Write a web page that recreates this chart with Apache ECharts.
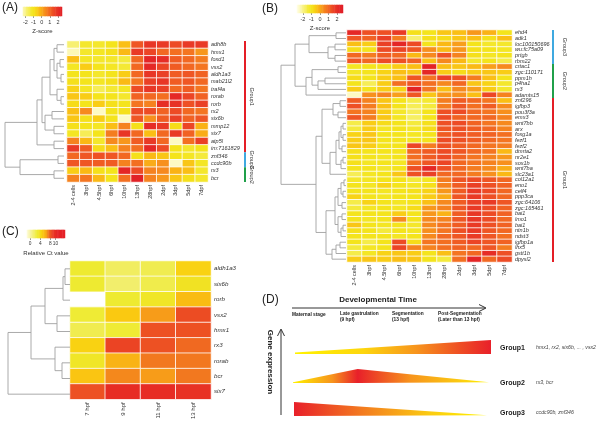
<!DOCTYPE html>
<html><head><meta charset="utf-8">
<script src="https://cdn.jsdelivr.net/npm/echarts@6/dist/echarts.min.js"></script>
<style>html,body{margin:0;padding:0;background:#fff}#c{width:600px;height:422px}</style>
</head><body><div id="c"></div>
<script>
const FONT = "'Liberation Sans', Arial, sans-serif";

// ---------- Panel A ----------
const colsA = ['2-4 cells','3hpf','4.5hpf','6hpf','10hpf','13hpf','28hpf','2dpf','3dpf','5dpf','7dpf'];
const rowsA = ['adh8b','hmx1','foxd1','vsx2','aldh1a3','mab21l2','traf4a','rorab','rorb','rx2','six6b','mmp12','six7','atp5l','im:7161829','znf346','ccdc90b','rx3','bcr'];
const valuesA = [
 [-1.8,-1.2,-1.2,-1.0,-0.3,1.3,1.9,1.8,1.5,1.8,1.8],
 [-2.3,-1.2,-1.1,-0.9,-0.2,1.8,1.6,1.0,0.9,0.8,0.3],
 [-0.3,-1.1,-1.2,-1.2,-1.4,1.0,2.3,2.1,1.2,1.0,0.7],
 [-1.1,-0.5,-1.0,-1.1,-1.3,1.0,2.2,1.6,1.2,1.0,0.8],
 [-1.0,-1.0,-1.2,-1.0,-0.5,1.0,1.9,1.7,1.2,1.3,1.1],
 [-0.9,-1.0,-1.1,-0.9,-0.2,0.8,1.7,1.9,1.2,1.3,1.0],
 [-0.6,-1.1,-1.6,-1.3,-1.1,1.5,1.9,1.7,1.0,1.2,0.8],
 [-0.4,-0.5,-1.0,-1.0,-1.2,1.1,1.0,0.9,2.2,1.6,1.1],
 [-0.8,-1.0,-0.5,-0.9,-1.0,0.8,0.6,2.1,2.0,1.4,1.7],
 [-0.3,0.5,-2.4,-1.0,-0.9,1.5,1.5,1.1,1.5,1.0,0.8],
 [-0.4,-0.9,-0.5,-1.0,-2.4,1.3,0.4,1.2,1.7,1.1,1.3],
 [-0.9,-1.0,-1.1,-0.3,0.6,-0.9,2.1,1.8,-0.8,1.6,-0.1],
 [-1.1,-1.6,-1.0,0.7,1.9,1.0,-0.3,1.0,1.8,1.1,0.0],
 [0.6,-0.2,-1.2,0.5,0.3,1.2,1.8,1.0,-2.4,0.9,1.7],
 [1.8,1.2,-0.8,-0.3,0.6,0.9,2.2,1.5,-1.0,-1.2,-1.0],
 [1.0,1.3,1.4,1.3,1.0,-0.9,-0.2,-0.4,-1.0,-1.1,-1.4],
 [1.3,1.3,1.2,1.2,0.6,0.9,0.0,0.4,-2.4,-0.4,-1.1],
 [-0.5,-0.2,-0.9,-1.0,2.3,1.5,0.6,0.5,-0.1,-0.3,-1.2],
 [0.6,0.8,-0.2,-1.0,0.9,2.5,0.6,0.3,-0.4,-0.9,-1.2]
];
// linkage: [childA, childB, height]; leaves 0..n-1, merged clusters n, n+1, ...
const linkA = [
 [0,1,7],[2,3,4],[4,5,3],[20,21,7],[19,22,10],[7,8,3],[6,24,7],[23,25,14],
 [9,10,12],[11,12,10],[27,28,19],[26,29,22],[13,14,10],[30,31,27],
 [15,16,6],[17,18,10],[33,34,44],[32,35,59]
];
const groupsA = [['Group1',0,14],['Group3',15,16],['Group2',17,18]];

// ---------- Panel B ----------
const colsB = colsA;
const rowsB = ['ehd4','adk1','loc100150696','wu:fc75a09','prtgb','rbm22','crtac1','zgc:110171','ppm1h','p4ha1','rx3','adamts15','znf296','igfbp3','pou3f3a','emx3','wnt7bb','arx','foxg1a','fezf1','fezf2','dmrta2','nr2e1','sox1b','wnt7ba','slc23a1','col12a1','eno1','celf4','ppp3ca','zgc:64106','zgc:165461','bai1','lmo1','bai1','ntn1b','ndst3','igfbp1a','lhx5','gstt1b','dpysl2'];
const valuesB = [
 [2.2,1.4,1.4,1.8,-0.9,-1.0,-0.4,-0.3,0.3,-0.1,-1.0],
 [1.3,1.1,1.7,0.7,-1.8,-0.9,-0.8,-0.4,-0.3,-0.9,-0.3],
 [-0.3,-0.5,1.7,2.3,1.5,-1.0,-0.2,0.2,-1.0,-1.2,-1.2],
 [-0.8,-1.0,1.5,1.6,1.3,0.4,-0.2,0.3,-0.9,-1.0,-1.1],
 [1.0,0.7,1.2,1.0,-0.2,0.5,1.4,0.6,-0.9,-1.1,-1.0],
 [1.3,1.0,1.5,1.4,1.1,-0.3,0.5,-0.2,-1.2,-1.0,-1.5],
 [-1.1,-1.0,-0.9,-0.5,-0.3,2.4,-0.3,-0.4,-0.2,0.2,0.5],
 [-1.1,-1.0,-0.6,-0.3,-0.4,2.3,-0.5,-0.8,-0.5,-0.4,-0.5],
 [-0.8,-1.0,-0.5,-0.3,1.3,0.8,1.7,1.4,0.7,-0.3,-1.0],
 [-1.0,-1.6,-0.5,0.9,1.3,0.9,0.5,1.0,-0.4,-0.6,-1.2],
 [-0.5,-1.0,-0.5,-0.6,2.4,0.8,-0.3,0.5,0.2,-0.5,-1.2],
 [-2.4,0.4,0.6,0.2,1.3,-0.4,0.3,0.4,-0.3,1.6,0.6],
 [1.2,0.6,-0.4,-1.0,-1.5,-1.3,0.7,1.2,1.0,0.8,-0.3],
 [1.4,0.7,-0.3,-1.0,-1.6,-1.4,0.7,1.3,0.9,1.2,0.5],
 [0.8,0.6,-0.5,-1.2,-1.6,-1.0,1.4,1.5,1.0,0.8,0.4],
 [1.3,0.7,-0.4,-1.1,-1.7,-1.0,1.5,1.1,1.0,1.0,0.6],
 [-1.5,-0.5,-0.8,-1.0,-1.4,-0.9,1.4,1.5,1.1,0.8,0.5],
 [-1.4,-0.5,-1.1,-1.0,-1.2,-0.8,1.3,1.4,1.2,1.0,0.6],
 [-0.6,-0.4,-1.0,-1.0,-1.1,-1.0,1.2,1.4,1.2,1.1,0.9],
 [-0.5,-0.4,-1.0,-1.0,-1.1,-1.0,1.5,1.4,1.2,1.0,0.8],
 [-0.4,-0.5,-1.0,-1.0,1.6,0.7,1.4,1.2,1.0,0.8,0.7],
 [-0.9,-1.0,-1.0,-1.0,1.0,1.2,1.5,1.3,1.0,0.8,-0.2],
 [-0.9,-1.0,-1.1,-1.0,0.9,1.2,1.5,1.1,0.8,0.6,0.3],
 [-0.9,-1.1,-1.0,-1.1,0.9,1.3,1.6,1.0,0.8,0.6,0.4],
 [-1.0,-1.0,-1.2,-1.0,1.4,2.2,1.4,1.0,0.7,0.5,0.0],
 [-1.6,-1.1,-1.0,-0.4,1.4,1.7,1.0,1.0,0.7,0.4,-0.2],
 [-1.2,-1.1,-1.0,-1.0,-1.4,-1.1,0.7,1.3,1.5,1.3,1.0],
 [-1.0,-1.1,-0.6,-1.0,-1.1,-0.9,0.6,1.2,1.7,1.4,1.1],
 [-1.0,-1.0,-1.1,-1.0,-0.9,-0.6,0.3,1.2,1.8,1.5,1.0],
 [-0.6,-1.0,-1.1,-1.0,-1.0,-0.5,0.0,1.3,1.8,1.4,1.0],
 [-1.5,-0.6,-1.0,-1.1,-1.0,-0.3,0.5,1.2,1.7,1.8,1.3],
 [-1.4,-1.1,-1.0,-1.1,-0.8,0.3,0.6,1.3,1.8,1.5,1.1],
 [-1.0,-1.0,-1.0,-0.5,-1.0,0.3,-0.1,1.2,1.9,1.5,1.1],
 [-1.0,-1.1,-1.0,0.5,-1.0,0.5,0.6,1.3,1.9,1.5,1.0],
 [-0.4,-1.0,-1.1,-1.0,-1.2,0.5,0.8,1.2,1.8,1.4,1.1],
 [-0.9,-1.0,-1.4,-1.0,-1.1,0.4,0.8,1.4,1.8,1.3,1.0],
 [-1.0,-1.0,-1.0,-1.1,-1.0,0.5,1.0,1.3,1.8,1.3,0.9],
 [-1.0,-1.5,-1.0,1.5,-0.8,0.8,0.9,1.2,1.6,1.3,1.1],
 [-1.4,-1.1,-1.0,1.6,0.6,0.6,0.9,1.1,1.0,1.3,0.7],
 [-1.5,-1.1,-0.6,-0.4,-0.5,-1.0,-0.3,0.8,1.0,2.1,1.4],
 [-0.5,-0.4,-0.5,-0.3,-0.4,-1.0,-1.4,0.9,2.3,1.0,1.5]
];
const linkB = [
 [0,1,10],[2,3,11],[4,5,11],[42,43,18],[41,44,37],
 [6,7,8],[8,9,21],[47,10,28],[46,48,34],[49,11,40],[45,50,51],
 [12,13,6],[14,15,8],[52,53,13],
 [16,17,3],[18,19,3],[55,56,5],[20,21,4],[57,58,7],[22,23,3],[60,24,5],[59,61,10],[62,25,16],[54,63,24],
 [26,27,2],[28,29,3],[65,66,5],[30,31,4],[67,68,8],
 [32,33,4],[34,35,3],[71,36,5],[70,72,8],[69,73,11],
 [37,38,6],[75,39,10],[76,40,14],[74,77,20],
 [64,78,30],[51,79,65]
];
const groupsB = [['Group3',0,5],['Group2',6,11],['Group1',12,40]];

// ---------- Panel C ----------
const colsC = ['7 hpf','9 hpf','11 hpf','13 hpf'];
const rowsC = ['aldh1a3','six6b','rorb','vsx2','hmx1','rx3','rorab','bcr','six7'];
const valuesC = [
 [3.0,1.8,2.2,4.6],
 [3.0,1.5,2.3,3.6],
 [null,3.0,3.4,5.6],
 [2.9,5.0,6.6,8.5],
 [2.2,2.9,8.3,8.3],
 [4.6,8.8,8.3,7.6],
 [3.4,6.0,7.3,7.3],
 [5.2,7.0,6.6,7.3],
 [8.3,10.0,10.0,9.6]
];
const linkC = [[0,1,5],[9,2,7],[3,4,13],[10,11,25],[6,7,8],[5,13,15],[12,14,39],[15,8,62]];

// ---------- Keys ----------
const keyTicksZ = [-2,-1,0,1,2];
const keyTicksCt = [0,4,8,10];

// ---------- Panel D ----------
const stagesD = [['Maternal stage'],['Late gastrulation','(9 hpf)'],['Segmentation','(13 hpf)'],['Post-Segmentation','(Later than 13 hpf)']];
const groupNamesD = ['Group1','Group2','Group3'];
const groupGenesD = ['hmx1, rx2, six6b, ... , vsx2','rx3, bcr','ccdc90b, znf346'];
const profileG1 = [[0,0.1],[1,1]];
const profileG2 = [[0,0.05],[0.33,1],[1,0.05]];
const profileG3 = [[0,1],[1,0.05]];

// ---------- styles ----------
const zColors = ['#FFFDE0','#FBF6A8','#F7F070','#F4EA3C','#F4E41C','#F8D316','#FAB915','#F89E1B','#F5821F','#F26822','#EE5024','#E93A26','#E52826','#E01E26'];
const ctColors = ['#FFFFE6','#F8F4A8','#F2EE68','#EEEA2B','#FAD010','#F9AE16','#EF5F23','#E93524','#E52025','#E52025','#E52025'];
const groupColor = {Group1:'#E41E26', Group2:'#20A04A', Group3:'#3FA9E0'};

function range(a, b, s){const r=[];for(let v=a; v<=b+1e-9; v+=s) r.push(Math.round(v*100)/100);return r;}
const keyZA = range(-2.2, 2.4, 0.2);
const keyZB = range(-2.6, 2.6, 0.2);
const keyCt = range(-1, 13.5, 0.5);

function heatData(vals){const d=[];vals.forEach((row,r)=>row.forEach((v,c)=>{if(v!==null)d.push([c,r,v]);}));return d;}
function dendroData(link, n){
  const pos=[],hgt=[];for(let i=0;i<n;i++){pos[i]=i;hgt[i]=0;}
  const out=[];
  link.forEach((l,k)=>{const [a,b,h]=l;out.push([hgt[a],pos[a],hgt[b],pos[b],h]);pos[n+k]=(pos[a]+pos[b])/2;hgt[n+k]=h;});
  return out;
}
function dendroSeries(gi, link, n){
  return {type:'custom', xAxisIndex:gi, yAxisIndex:gi, silent:true, encode:{x:[0,2,4], y:[1,3]},
    data: dendroData(link,n),
    renderItem:(p,api)=>{
      const a=api.coord([api.value(0),api.value(1)]), am=api.coord([api.value(4),api.value(1)]);
      const bm=api.coord([api.value(4),api.value(3)]), b=api.coord([api.value(2),api.value(3)]);
      return {type:'polyline', shape:{points:[a,am,bm,b]}, style:{stroke:'#a0a0a0', fill:null, lineWidth:0.9}};
    }};
}
function groupSeries(gi, groups, ncol, barOff, textOff){
  return {type:'custom', xAxisIndex:gi, yAxisIndex:gi, silent:true, clip:false, encode:{x:0,y:[1,2]},
    data: groups.map(g=>[ncol-1,g[1],g[2]]),
    renderItem:(p,api)=>{
      const g=groups[p.dataIndex];
      const p0=api.coord([ncol-1,g[1]]), p1=api.coord([ncol-1,g[2]]), sz=api.size([1,1]);
      const x=p0[0]+sz[0]/2+barOff, y0=p0[1]-sz[1]/2, y1=p1[1]+sz[1]/2;
      return {type:'group', children:[
        {type:'rect', shape:{x:x, y:y0, width:2, height:y1-y0}, style:{fill:groupColor[g[0]]}},
        {type:'text', x:x+textOff, y:(y0+y1)/2, rotation:-Math.PI/2,
         style:{text:g[0], fontSize:5.5, fill:'#333', fontFamily:FONT, align:'center', verticalAlign:'middle'}}
      ]};
    }};
}
function keySeries(gi, vals){return {type:'heatmap', xAxisIndex:gi, yAxisIndex:gi, silent:true, data: vals.map((v,i)=>[i,0,v])};}
function keyX(gi, vals, ticks, name, fs){
  const isT=(i)=>ticks.some(t=>Math.abs(t-vals[i])<1e-6);
  return {type:'category', gridIndex:gi, data:vals.map(String), position:'bottom',
    axisLine:{show:false},
    axisTick:{show:true, alignWithLabel:true, length:2, interval:(i)=>isT(i), lineStyle:{color:'#555', width:0.6}},
    axisLabel:{interval:(i)=>isT(i), fontSize:fs, color:'#333', margin:3, fontFamily:FONT, hideOverlap:false},
    name:name, nameLocation:'middle', nameGap:12, nameTextStyle:{fontSize:6, color:'#333', fontFamily:FONT}};
}
function hideY(gi){return {type:'category', gridIndex:gi, data:['k'], show:false};}
function heatX(gi, cols, fs){return {type:'category', gridIndex:gi, data:cols, position:'bottom', axisLine:{show:false}, axisTick:{show:false},
  axisLabel:{rotate:90, interval:0, fontSize:fs, color:'#333', margin:3, fontFamily:FONT}, splitArea:{show:false}};}
function heatY(gi, rows, fs, fmt){return {type:'category', gridIndex:gi, data:rows, inverse:true, position:'right', axisLine:{show:false}, axisTick:{show:false},
  axisLabel:{interval:0, fontSize:fs, fontStyle:'italic', color:'#333', margin:3, fontFamily:FONT, formatter:fmt}};}
function dX(gi,max){return {type:'value', gridIndex:gi, min:0, max:max, inverse:true, show:false};}
function dY(gi,n){return {type:'value', gridIndex:gi, min:-0.5, max:n-0.5, inverse:true, show:false};}
function vX(gi){return {type:'value', gridIndex:gi, min:0, max:1, show:false};}
function lin(stops){return {type:'linear', x:0, y:0, x2:1, y2:0, colorStops:stops.map(s=>({offset:s[0], color:s[1]}))};}
function areaSeries(gi, prof, stops){return {type:'line', xAxisIndex:gi, yAxisIndex:gi, data:prof, symbol:'none', silent:true,
  lineStyle:{width:0}, areaStyle:{opacity:1, color:lin(stops)}};}

const heatStyle = {borderColor:'#fff', borderWidth:0.8};

const option = {
  animation:false, backgroundColor:'#fff',
  grid:[
    {left:67, top:41, width:141, height:141},
    {left:23, top:7, width:39, height:9},
    {left:5, top:41, width:59, height:141},
    {left:347, top:30, width:165, height:232},
    {left:297, top:5, width:46, height:8},
    {left:281, top:30, width:65, height:232},
    {left:70, top:261, width:141, height:141},
    {left:27, top:230, width:38, height:8},
    {left:8, top:261, width:62, height:141},
    {left:295, top:340, width:196, height:14},
    {left:293, top:369, width:196, height:14},
    {left:294, top:402, width:193, height:14}
  ],
  xAxis:[
    heatX(0,colsA,5.5), keyX(1,keyZA,keyTicksZ,'Z-score',5.5), dX(2,59),
    heatX(3,colsB,5.5), keyX(4,keyZB,keyTicksZ,'Z-score',5.5), dX(5,65),
    heatX(6,colsC,6), keyX(7,keyCt,keyTicksCt,'Relative Ct value',4.8), dX(8,62),
    vX(9), vX(10), vX(11)
  ],
  yAxis:[
    heatY(0,rowsA,5.5), hideY(1), dY(2,rowsA.length),
    heatY(3,rowsB.map((_,i)=>String(i)),5.5,(v)=>rowsB[+v]), hideY(4), dY(5,rowsB.length),
    heatY(6,rowsC,6.2), hideY(7), dY(8,rowsC.length),
    {type:'value',gridIndex:9,min:0,max:1,show:false},{type:'value',gridIndex:10,min:0,max:1,show:false},{type:'value',gridIndex:11,min:0,max:1,show:false}
  ],
  visualMap:[
    {type:'continuous', show:false, min:-2.6, max:2.6, seriesIndex:[0,1,4,5], inRange:{color:zColors}},
    {type:'continuous', show:false, min:-1.5, max:14, seriesIndex:[8,9], inRange:{color:ctColors}}
  ],
  series:[
    {type:'heatmap', xAxisIndex:0, yAxisIndex:0, data:heatData(valuesA), itemStyle:heatStyle, silent:true},
    keySeries(1,keyZA),
    dendroSeries(2,linkA,rowsA.length),
    groupSeries(0,groupsA,colsA.length,36,8),
    {type:'heatmap', xAxisIndex:3, yAxisIndex:3, data:heatData(valuesB), itemStyle:heatStyle, silent:true},
    keySeries(4,keyZB),
    dendroSeries(5,linkB,rowsB.length),
    groupSeries(3,groupsB,colsB.length,40,13),
    {type:'heatmap', xAxisIndex:6, yAxisIndex:6, data:heatData(valuesC), itemStyle:heatStyle, silent:true},
    keySeries(7,keyCt),
    dendroSeries(8,linkC,rowsC.length),
    areaSeries(9,profileG1,[[0,'#FFF200'],[0.35,'#FDD60E'],[0.62,'#F7941D'],[0.85,'#EE4B24'],[1,'#E8202A']]),
    areaSeries(10,profileG2,[[0,'#FFF200'],[0.2,'#F7941D'],[0.33,'#E8202A'],[0.6,'#F7941D'],[0.85,'#FBCB12'],[1,'#FFF200']]),
    areaSeries(11,profileG3,[[0,'#E8202A'],[0.35,'#F37A20'],[0.7,'#FBCB12'],[1,'#FFF200']])
  ],
  graphic:[]
};

const T = (x,y,text,o)=>Object.assign({type:'text', x:x, y:y, silent:true, style:Object.assign({text:text, fontFamily:FONT, fill:'#222', fontSize:12}, o||{})});
const g = option.graphic;
g.push(T(2,2,'(A)'), T(262,3,'(B)'), T(2,226,'(C)'), T(262,294,'(D)'));
g.push(T(378,300,'Developmental Time',{fontSize:8, fontWeight:'bold', align:'center', verticalAlign:'middle'}));
// arrows
g.push({type:'polyline', silent:true, shape:{points:[[292,308],[485,308]]}, style:{stroke:'#333', lineWidth:1}});
g.push({type:'polyline', silent:true, shape:{points:[[479,304.5],[486,308],[479,311.5]]}, style:{stroke:'#333', fill:null, lineWidth:1}});
g.push({type:'polyline', silent:true, shape:{points:[[281,415],[281,330]]}, style:{stroke:'#333', lineWidth:1}});
g.push({type:'polyline', silent:true, shape:{points:[[277.5,336],[281,329],[284.5,336]]}, style:{stroke:'#333', fill:null, lineWidth:1}});
const stageX = [292,340,392,438];
stagesD.forEach((s,i)=>{
  if(s.length===1) g.push(T(stageX[i],315,s[0],{fontSize:4.8, fontWeight:'bold', verticalAlign:'middle'}));
  else { g.push(T(stageX[i],313.5,s[0],{fontSize:4.8, fontWeight:'bold', verticalAlign:'middle'})); g.push(T(stageX[i],319.5,s[1],{fontSize:4.8, fontWeight:'bold', verticalAlign:'middle'})); }
});
g.push(Object.assign(T(270,362,'Gene expression',{fontSize:8, fontWeight:'bold', align:'center', verticalAlign:'middle'}),{rotation:-Math.PI/2}));
const gy = [348,383,413];
groupNamesD.forEach((n,i)=>{
  g.push(T(500,gy[i],n,{fontSize:7, fontWeight:'bold', verticalAlign:'middle'}));
  g.push(T(536,gy[i],groupGenesD[i],{fontSize:5.2, fontStyle:'italic', fill:'#444', verticalAlign:'middle'}));
});

const chart = echarts.init(document.getElementById('c'), null, {renderer:'canvas'});
chart.setOption(option);
</script></body></html>
